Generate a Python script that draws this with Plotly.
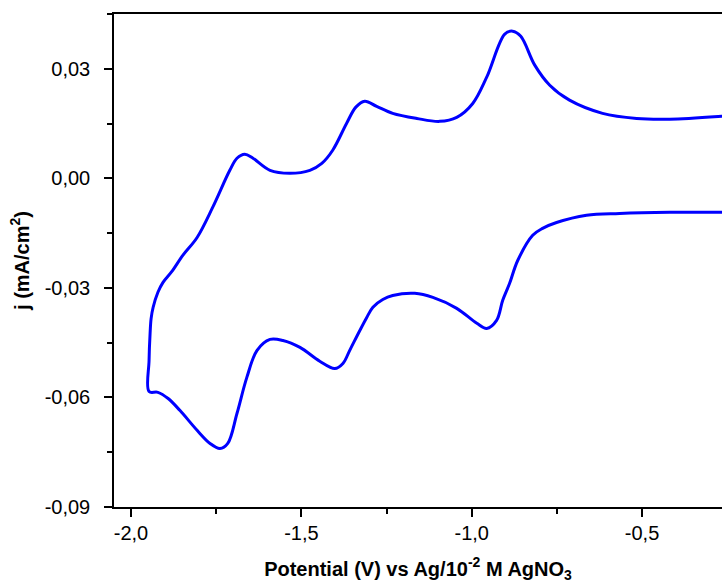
import plotly.graph_objects as go

# Cyclic voltammogram: lower (cathodic) branch from right to left, then upper (anodic) branch back
potential_V = [
    -0.243, -0.419, -0.566, -0.663, -0.751, -0.792, -0.821, -0.865, -0.889, -0.909,
    -0.927, -0.956, -0.985, -1.044, -1.114, -1.167, -1.232, -1.261, -1.290, -1.308,
    -1.328, -1.358, -1.378, -1.402, -1.446, -1.504, -1.554, -1.592, -1.630, -1.660,
    -1.689, -1.716, -1.739, -1.768, -1.806, -1.856, -1.891, -1.921, -1.947,
    -1.947, -1.944, -1.941, -1.935, -1.921, -1.906, -1.880, -1.848, -1.806, -1.760,
    -1.710, -1.689, -1.666, -1.642, -1.592, -1.534, -1.475, -1.440, -1.408, -1.367,
    -1.340, -1.314, -1.279, -1.232, -1.161, -1.094, -1.044, -0.997, -0.956, -0.903,
    -0.880, -0.856, -0.815, -0.771, -0.713, -0.616, -0.516, -0.419, -0.267, -0.229,
]
current_j = [
    -0.0093, -0.0093, -0.0096, -0.0101, -0.0121, -0.0137, -0.0156, -0.0225, -0.0288, -0.0334,
    -0.0389, -0.0411, -0.0397, -0.0356, -0.0326, -0.0315, -0.0321, -0.0332, -0.0353, -0.0381,
    -0.0416, -0.0471, -0.0507, -0.0521, -0.0501, -0.0463, -0.0444, -0.0441, -0.0471, -0.0545,
    -0.0644, -0.0726, -0.0740, -0.0726, -0.0690, -0.0636, -0.0603, -0.0586, -0.0584,
    -0.0499, -0.0425, -0.0384, -0.0353, -0.0312, -0.0285, -0.0255, -0.0211, -0.0162, -0.0079,
    0.0022, 0.0055, 0.0066, 0.0055, 0.0022, 0.0014, 0.0022, 0.0041, 0.0077, 0.0151,
    0.0195, 0.0211, 0.0197, 0.0178, 0.0164, 0.0156, 0.0167, 0.0205, 0.0277, 0.0395,
    0.0403, 0.0389, 0.0310, 0.0255, 0.0214, 0.0178, 0.0164, 0.0162, 0.0170, 0.0173,
]

x_ticks = [-2.0, -1.5, -1.0, -0.5]
x_tick_labels = ["-2,0", "-1,5", "-1,0", "-0,5"]
y_ticks = [-0.09, -0.06, -0.03, 0.00, 0.03]
y_tick_labels = ["-0,09", "-0,06", "-0,03", "0,00", "0,03"]

fig = go.Figure()
fig.add_trace(go.Scatter(
    x=potential_V, y=current_j, mode="lines",
    line=dict(color="#0000FF", width=3, shape="spline", smoothing=1.0),
    showlegend=False, cliponaxis=True,
))

font_family = "Liberation Sans, Arial, sans-serif"
fig.update_layout(
    width=722, height=583,
    margin=dict(l=114, r=0, t=14, b=76, autoexpand=False),
    plot_bgcolor="white", paper_bgcolor="white",
    font=dict(family=font_family, size=20, color="black"),
    xaxis=dict(
        range=[-2.0499, -0.2654], tickvals=x_ticks, ticktext=x_tick_labels,
        ticks="outside", ticklen=8, tickwidth=1.5, tickcolor="black",
        minor=dict(dtick=0.25, tick0=-2.0, ticks="outside", ticklen=5, tickwidth=1.5, tickcolor="black"),
        showline=True, linecolor="black", linewidth=1.5, mirror=True,
        showgrid=False, zeroline=False, ticklabelstandoff=-1,
        title=dict(text="<b>Potential (V) vs Ag/10<sup>-2</sup> M AgNO<sub>3</sub></b>",
                   font=dict(size=20), standoff=27),
    ),
    yaxis=dict(
        range=[-0.09, 0.045], tickvals=y_ticks, ticktext=y_tick_labels,
        ticks="outside", ticklen=8, tickwidth=1.5, tickcolor="black",
        minor=dict(dtick=0.015, tick0=-0.09, ticks="outside", ticklen=5, tickwidth=1.5, tickcolor="black"),
        showline=True, linecolor="black", linewidth=1.5, mirror=False,
        showgrid=False, zeroline=False, ticklabelstandoff=10,
        title=dict(text="<b>j (mA/cm<sup>2</sup>)</b>", font=dict(size=20), standoff=10),
    ),
)

fig.write_html(
    "out.html",
    config={"responsive": False, "displayModeBar": False},
    post_script="document.body.style.margin='0';document.body.style.overflow='hidden';",
)
